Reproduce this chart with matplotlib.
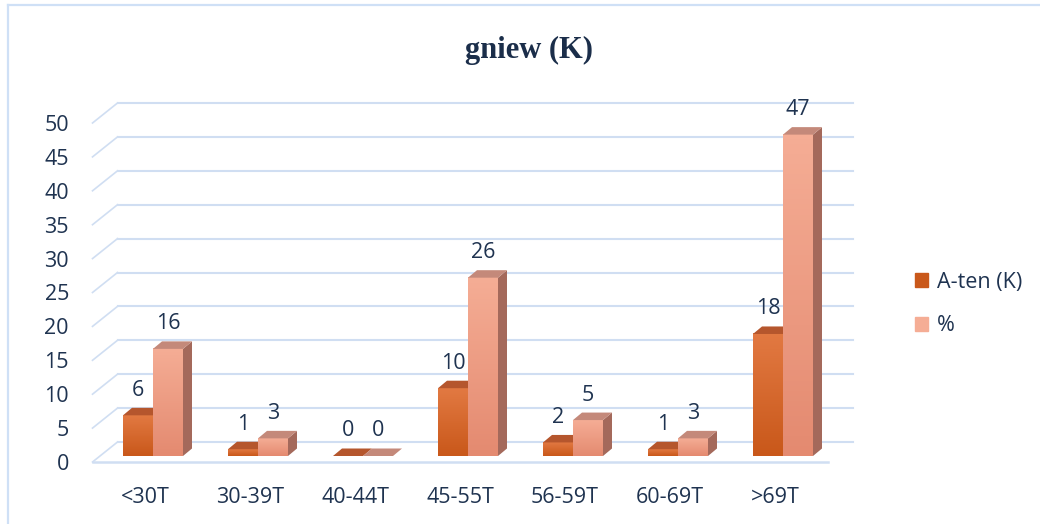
import numpy as np
import matplotlib
matplotlib.use('Agg')
import matplotlib.pyplot as plt
from matplotlib.patches import Polygon, Patch
from matplotlib.colors import LinearSegmentedColormap

categories = ['<30T', '30-39T', '40-44T', '45-55T', '56-59T', '60-69T', '>69T']
counts = [6, 1, 0, 10, 2, 1, 18]
percents = [15.8, 2.6, 0, 26.3, 5.3, 2.6, 47.4]
series_names = ['A-ten (K)', '%']
y_ticks = list(range(0, 55, 5))

text_col = '#1f3350'
grid_col = '#d0def2'
fs = 15.5
plt.rcParams['font.family'] = ['Open Sans', 'DejaVu Sans']

# colours per series: front bottom, front top, top face, side face
styles = [
    ('#c9581a', '#e27942', '#b5562d', '#9a4a26'),
    ('#e48a70', '#f5ad95', '#c4897a', '#a4695b'),
]

W, H = 1040, 524
fig = plt.figure(figsize=(W / 100, H / 100), dpi=100)
ax_w, ax_h = 735, 339
ax = fig.add_axes([92.5 / W, 62 / H, ax_w / W, ax_h / H])
ax.set_xlim(-0.5, 6.5)
ax.set_ylim(0, 50)
ux = 7 / ax_w    # data units per pixel
uy = 50 / ax_h

# back wall gridlines and left wall diagonals
bx, by = 25 * ux, 20 * uy
for v in y_ticks:
    ax.plot([-0.5 + bx, 6.5 + bx], [v + by, v + by], color=grid_col, lw=1.5,
            clip_on=False, zorder=1)
    ax.plot([-0.5, -0.5 + bx], [v, v + by], color=grid_col, lw=1.2,
            clip_on=False, zorder=1)
ax.plot([-0.5, 6.5], [0, 0], color=grid_col, lw=1.8, clip_on=False, zorder=1)

# 3D-looking bars
bw = 30 * ux
fx, fy = 8 * ux, 6 * uy
dx, dy = 9 * ux, 7.5 * uy
grad = np.linspace(0, 1, 64).reshape(-1, 1)
for i in range(len(categories)):
    for j, vals in enumerate([counts, percents]):
        val = vals[i]
        c_bot, c_top, c_face, c_side = styles[j]
        z = 3 + i * 0.1 + j * 0.05
        x0 = i + fx + (j - 1) * bw
        y0 = fy
        y1 = fy + val
        if val > 0:
            cmap = LinearSegmentedColormap.from_list('g', [c_bot, c_top])
            ax.imshow(grad, extent=[x0, x0 + bw, y0, y1], origin='lower',
                      cmap=cmap, aspect='auto', zorder=z)
            ax.add_patch(Polygon([(x0 + bw, y0), (x0 + bw + dx, y0 + dy),
                                  (x0 + bw + dx, y1 + dy), (x0 + bw, y1)],
                                 closed=True, color=c_side, lw=0, zorder=z))
        ax.add_patch(Polygon([(x0, y1), (x0 + bw, y1), (x0 + bw + dx, y1 + dy),
                              (x0 + dx, y1 + dy)],
                             closed=True, color=c_face, lw=0, zorder=z))
        ax.text(x0 + bw / 2, y1 + 25 * uy, f'{round(val)}', ha='center',
                va='center', fontsize=fs, color=text_col, zorder=10)

ax.set_xlim(-0.5, 6.5)
ax.set_ylim(0, 50)

ax.set_yticks(y_ticks)
ax.set_xticks(range(len(categories)))
ax.set_xticklabels(categories)
ax.tick_params(axis='both', length=0, labelsize=fs, labelcolor=text_col)
ax.tick_params(axis='y', pad=17)
ax.tick_params(axis='x', pad=18)
for s in ax.spines.values():
    s.set_visible(False)
ax.patch.set_alpha(0)

fig.text(529 / W, 1 - 50 / H, 'gniew (K)', family='Liberation Serif',
         weight='bold', size=22, ha='center', va='center', color='#1b2e4a')

handles = [Patch(color=styles[0][0]), Patch(color=styles[1][1])]
fig.legend(handles, series_names, loc='center left',
           bbox_to_anchor=(915 / W, 1 - 304 / H), frameon=False, fontsize=fs,
           handlelength=0.62, handleheight=0.62, handletextpad=0.4,
           labelspacing=1.05, borderpad=0, borderaxespad=0, labelcolor=text_col)

# outer chart frame (top and left edges visible)
fig.add_artist(plt.Line2D([8 / W, 8 / W], [0, 1 - 5 / H], transform=fig.transFigure,
                          color='#cfe0f6', lw=1.6))
fig.add_artist(plt.Line2D([8 / W, 1], [1 - 5 / H, 1 - 5 / H], transform=fig.transFigure,
                          color='#cfe0f6', lw=1.6))

fig.savefig('out.png', dpi=100)
